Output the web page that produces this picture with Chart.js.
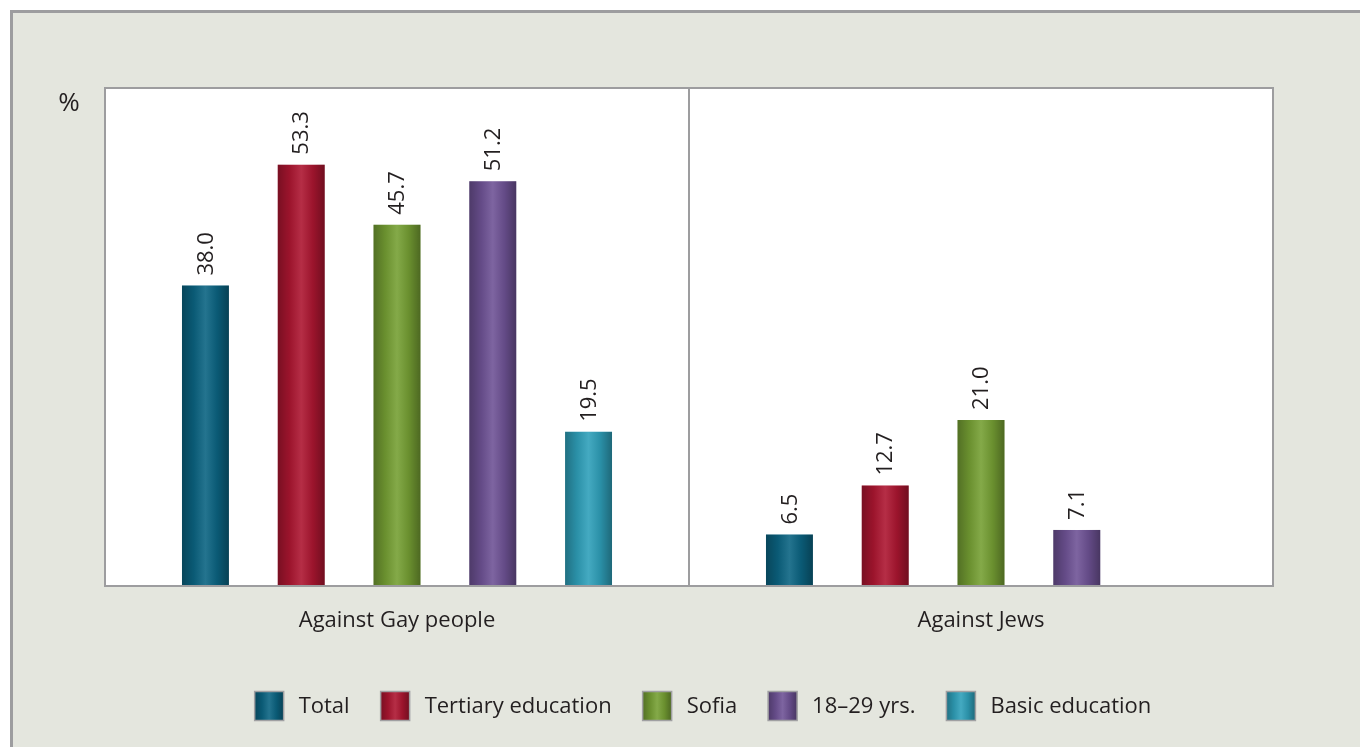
<!DOCTYPE html>
<html><head><meta charset="utf-8">
<script src="https://cdn.jsdelivr.net/npm/chart.js@4.4.1/dist/chart.umd.min.js"></script>
<style>
html,body{margin:0;padding:0;background:#fff;width:1360px;height:747px;overflow:hidden;}
#frame{position:absolute;left:10px;top:10px;width:1360px;height:747px;background:#e4e6de;border-left:3px solid #9d9d9f;border-top:3px solid #9d9d9f;}
#wrap{position:absolute;left:0;top:0;width:1360px;height:747px;}
</style></head><body>
<div id="frame"></div>
<div id="wrap"><canvas id="c" width="1360" height="747"></canvas></div>
<script>
const categories = ["Against Gay people", "Against Jews"];
const seriesNames = ["Total", "Tertiary education", "Sofia", "18\u201329 yrs.", "Basic education"];
const totalVals = [38.0, 6.5];
const tertiaryVals = [53.3, 12.7];
const sofiaVals = [45.7, 21.0];
const youngVals = [51.2, 7.1];
const basicVals = [19.5, null];
const seriesColors = ["#0b6482", "#ad1631", "#76a034", "#6f5396", "#2fa0ba"];
const yMax = 63;

const FONT = "'Open Sans', sans-serif";
const TXT = "#231f20";
const allVals = [totalVals, tertiaryVals, sofiaVals, youngVals, basicVals];

function cylGrad(ctx, x0, x1) {
  const g = ctx.createLinearGradient(x0, 0, x1, 0);
  g.addColorStop(0, "rgba(0,0,0,0.30)");
  g.addColorStop(0.25, "rgba(0,0,0,0.10)");
  g.addColorStop(0.5, "rgba(255,255,255,0.10)");
  g.addColorStop(0.75, "rgba(0,0,0,0.10)");
  g.addColorStop(1, "rgba(0,0,0,0.35)");
  return g;
}

const decor = {
  id: "decor",
  beforeDraw(chart) {
    const {ctx, chartArea: a} = chart;
    ctx.save();
    ctx.fillStyle = "#fff";
    ctx.fillRect(a.left, a.top, a.right - a.left, a.bottom - a.top);
    ctx.restore();
  },
  afterDatasetsDraw(chart) {
    const {ctx, chartArea: a} = chart;
    ctx.save();
    chart.data.datasets.forEach((ds, di) => {
      const meta = chart.getDatasetMeta(di);
      meta.data.forEach((el, i) => {
        const v = ds.data[i];
        if (v == null) return;
        const x0 = el.x - el.width / 2, x1 = el.x + el.width / 2;
        ctx.fillStyle = cylGrad(ctx, x0, x1);
        ctx.fillRect(x0, el.y, el.width, el.base - el.y);
        ctx.save();
        ctx.translate(el.x, el.y - 10);
        ctx.rotate(-Math.PI / 2);
        ctx.font = "22px " + FONT;
        ctx.fillStyle = TXT;
        ctx.textAlign = "left";
        ctx.textBaseline = "middle";
        ctx.fillText(v.toFixed(1), 0, 1);
        ctx.restore();
      });
    });
    ctx.strokeStyle = "#9d9d9f";
    ctx.lineWidth = 2;
    ctx.strokeRect(a.left, a.top, a.right - a.left, a.bottom - a.top);
    ctx.font = "26px " + FONT;
    ctx.fillStyle = TXT;
    ctx.textAlign = "center";
    ctx.textBaseline = "middle";
    ctx.fillText("%", 69, 104);
    ctx.font = "22px " + FONT;
    ctx.textAlign = "left";
    const box = 29, gapTxt = 15, gapItem = 31, ly = 706;
    let total = 0;
    const widths = seriesNames.map(n => ctx.measureText(n).width);
    widths.forEach(w => total += box + gapTxt + w);
    total += gapItem * (seriesNames.length - 1);
    let x = 703 - total / 2;
    seriesNames.forEach((n, i) => {
      ctx.fillStyle = seriesColors[i];
      ctx.fillRect(x, ly - box / 2, box, box);
      ctx.fillStyle = cylGrad(ctx, x, x + box);
      ctx.fillRect(x, ly - box / 2, box, box);
      ctx.strokeStyle = "#a0a0a2";
      ctx.lineWidth = 1.5;
      ctx.strokeRect(x, ly - box / 2, box, box);
      ctx.fillStyle = TXT;
      ctx.fillText(n, x + box + gapTxt, ly + 1);
      x += box + gapTxt + widths[i] + gapItem;
    });
    ctx.restore();
  }
};

new Chart(document.getElementById("c"), {
  type: "bar",
  data: {
    labels: categories,
    datasets: seriesNames.map((n, i) => ({
      label: n,
      data: allVals[i],
      backgroundColor: seriesColors[i],
      borderWidth: 0,
      categoryPercentage: 0.82,
      barPercentage: 0.49
    }))
  },
  options: {
    responsive: false,
    animation: false,
    events: [],
    layout: {padding: {left: 105, right: 87, top: 88, bottom: 0}},
    plugins: {legend: {display: false}, tooltip: {enabled: false}},
    scales: {
      x: {
        offset: true,
        grid: {offset: true, color: "#9d9d9f", lineWidth: 2, drawTicks: false},
        border: {display: false},
        ticks: {font: {size: 22, family: FONT}, color: TXT, padding: 22},
        afterFit(s) { s.height = 161; }
      },
      y: {
        display: false,
        min: 0, max: yMax
      }
    }
  },
  plugins: [decor]
});
</script>
</body></html>
